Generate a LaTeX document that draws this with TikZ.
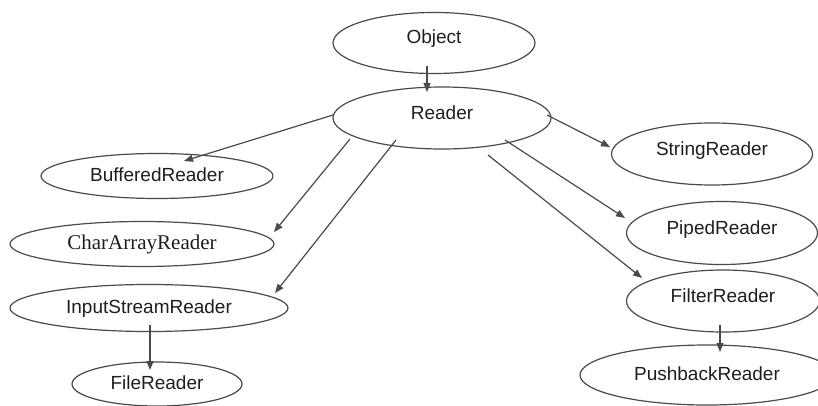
\documentclass[tikz,border=0pt]{standalone}
\usepackage{fontspec}
\setmainfont{Liberation Sans}
\newfontfamily\timesfont{Liberation Serif}
\usetikzlibrary{shapes.geometric,arrows.meta,calc}

\definecolor{ink}{HTML}{1E1E1E}
\definecolor{edge}{HTML}{4A4A4A}

\tikzset{
  cls/.style={ellipse, draw=edge, line width=1.2pt, inner sep=2pt, outer sep=0pt,
    text=ink, font=\fontsize{19}{22}\selectfont, text height=14pt, text depth=4pt},
  tall/.style={text depth=12pt},
  inherit/.style={draw=edge, line width=1.2pt, -{Triangle[length=9pt,width=7pt]}},
}

\begin{document}
\begin{tikzpicture}[x=1pt,y=1pt]
\useasboundingbox (0,0) rectangle (818,405);
\clip (0,0) rectangle (818,405);

% class nodes
\node[cls, tall, minimum width=202, minimum height=61] (obj)    at (434,362) {Object};
\node[cls, tall, minimum width=218, minimum height=62] (reader) at (442,287) {Reader};

\node[cls, minimum width=232, minimum height=45] (buf)  at (157,229) {BufferedReader};
\node[cls, minimum width=264, minimum height=45, font=\timesfont\fontsize{21}{24}\selectfont]
      (car)  at (142,161) {CharArrayReader};
\node[cls, minimum width=278, minimum height=47] (isr)  at (149,97) {InputStreamReader};
\node[cls, minimum width=170, minimum height=44] (file) at (157,21) {FileReader};

\node[cls, tall, minimum width=201, minimum height=62] (str)    at (712,251) {StringReader};
\node[cls, tall, minimum width=191, minimum height=63] (piped)  at (722,172) {PipedReader};
\node[cls, tall, minimum width=193, minimum height=62] (filter) at (723,104) {FilterReader};
\node[cls, minimum width=254, minimum height=60] (push)   at (707,30) {PushbackReader};

% inheritance arrows
\draw[inherit] ($(obj.center)+(-7,-23)$)     -- ($(reader.center)+(-15,26)$);

\draw[inherit] ($(reader.center)+(-109,3)$)  -- ($(buf.center)+(27,15)$);
\draw[inherit] ($(reader.center)+(-92,-21)$) -- ($(car.center)+(132,12)$);
\draw[inherit] ($(reader.center)+(-46,-22)$) -- ($(isr.center)+(126,15)$);
\draw[inherit] ($(isr.center)+(1,-17)$)      -- ($(file.center)+(-7,14)$);

\draw[inherit] ($(reader.center)+(105,3)$)   -- ($(str.center)+(-102,7)$);
\draw[inherit] ($(reader.center)+(63,-22)$)  -- ($(piped.center)+(-97,15)$);
\draw[inherit] ($(reader.center)+(46,-37)$)  -- ($(filter.center)+(-81,23)$);
\draw[inherit] ($(filter.center)+(-3,-24)$)  -- ($(push.center)+(13,23)$);
\end{tikzpicture}
\end{document}
